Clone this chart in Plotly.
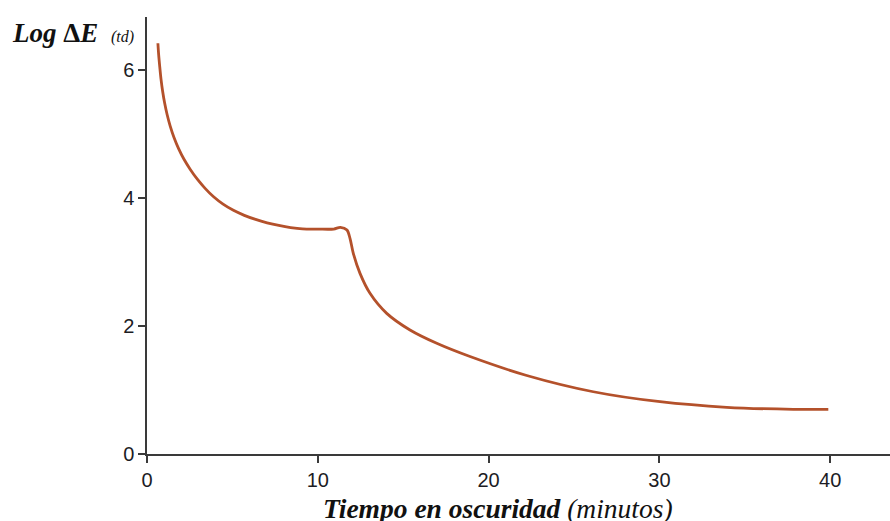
import plotly.graph_objects as go

# Dark-adaptation curve: log threshold vs. minutes in darkness
tiempo_min = [0.638, 0.685, 0.749, 0.82, 0.913, 1.03, 1.177, 1.358, 1.581, 1.85,
              2.166, 2.535, 2.945, 3.402, 3.899, 4.455, 5.059, 5.697, 6.358,
              7.032, 7.717, 8.407, 9.104, 10.0, 10.93, 11.32, 11.71, 11.885,
              12.078, 12.471, 13.056, 14.034, 15.398, 16.962, 18.911, 22.231,
              26.13, 30.035, 33.94, 37.84, 39.889]
log_delta_e = [6.42, 6.233, 6.047, 5.859, 5.673, 5.489, 5.306, 5.125, 4.947, 4.773,
               4.606, 4.447, 4.295, 4.152, 4.02, 3.905, 3.808, 3.73, 3.666,
               3.614, 3.572, 3.539, 3.518, 3.515, 3.516, 3.542, 3.5, 3.37,
               3.136, 2.823, 2.511, 2.198, 1.938, 1.73, 1.523, 1.227,
               0.973, 0.817, 0.73, 0.698, 0.698]

x_ticks = [0, 10, 20, 30, 40]
y_ticks = [0, 2, 4, 6]

curve_color = "#b4512b"
axis_color = "#3a3a3a"
tick_font = dict(family="Liberation Sans", size=20, color="#1c1c24")
serif = "Liberation Serif"

fig = go.Figure()
fig.add_trace(go.Scatter(
    x=tiempo_min, y=log_delta_e, mode="lines",
    line=dict(color=curve_color, width=2.8, shape="spline", smoothing=0.9),
    showlegend=False, hoverinfo="skip",
))

fig.update_xaxes(
    range=[0, 43.5], tickvals=x_ticks, ticktext=[str(v) for v in x_ticks],
    showline=True, linecolor=axis_color, linewidth=1.5,
    ticks="outside", ticklen=7, tickwidth=1.5, tickcolor=axis_color,
    showgrid=False, zeroline=False, tickfont=tick_font,
)
fig.update_yaxes(
    range=[0, 6.83], tickvals=y_ticks, ticktext=[str(v) for v in y_ticks],
    showline=True, linecolor=axis_color, linewidth=1.5,
    ticks="outside", ticklen=7, tickwidth=1.5, tickcolor=axis_color,
    showgrid=False, zeroline=False, tickfont=tick_font,
)

fig.add_annotation(
    xref="paper", yref="paper", x=-0.184, y=0.963, xanchor="left", yanchor="middle",
    text="<b><i>Log </i>Δ<i>E</i></b>", showarrow=False,
    font=dict(family=serif, size=27, color="#111111"),
)
fig.add_annotation(
    xref="paper", yref="paper", x=-0.051, y=0.955, xanchor="left", yanchor="middle",
    text="<i>(td)</i>", showarrow=False,
    font=dict(family=serif, size=16, color="#111111"),
)
fig.add_annotation(
    xref="paper", yref="paper", x=0.4724, y=-0.125, xanchor="center", yanchor="middle",
    text="<b><i>Tiempo en oscuridad</i></b> <i>(minutos)</i>", showarrow=False,
    font=dict(family=serif, size=27.5, color="#111111"),
)

fig.update_layout(
    width=890, height=521,
    margin=dict(l=147, r=0, t=17, b=67),
    paper_bgcolor="white", plot_bgcolor="white",
)

fig.write_html("out.html")
